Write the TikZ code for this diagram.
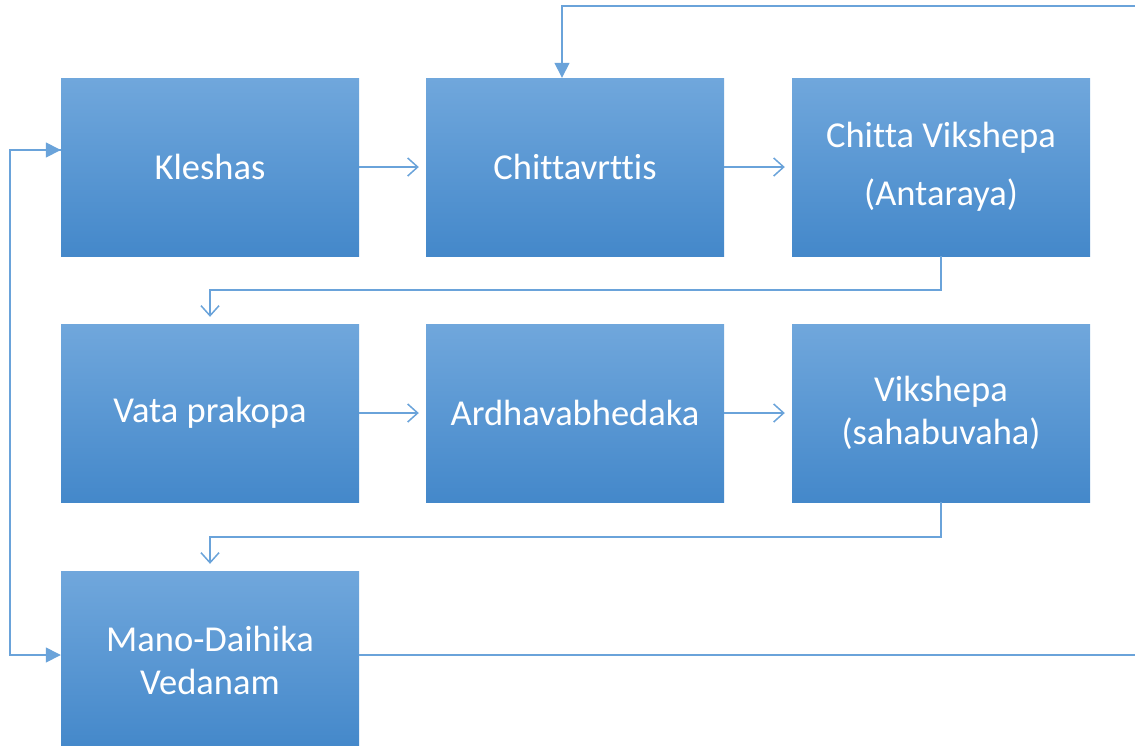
\documentclass[tikz,border=0pt]{standalone}
\usepackage{fontspec}
\setmainfont[Ligatures=CommonOff]{Carlito}
\usetikzlibrary{arrows.meta}
\definecolor{boxtop}{HTML}{70A7DC}
\definecolor{boxbot}{HTML}{4488CA}
\definecolor{linec}{HTML}{6AA3DA}
\tikzset{
  blk/.style={rectangle, minimum width=298pt, minimum height=178pt, inner sep=0pt,
    top color=boxtop, bottom color=boxbot, draw=none, text=white, align=center,
    font=\fontsize{36.5}{43}\selectfont},
  conn/.style={draw=linec, line width=1.5pt},
  openarr/.style={-{Straight Barb[length=10pt,width=18pt,line width=1.5pt]}, shorten >=7pt},
  fillarr/.style={-{Triangle[length=15pt,width=15pt]}},
}
\begin{document}
\begin{tikzpicture}[x=1pt,y=-1pt]
\useasboundingbox (0,0) rectangle (1135,745);
\node[blk] (k) at (210,167) {Kleshas};
\node[blk] (c) at (575,167) {Chittavrttis};
\node[blk] (cv) at (941,167) {Chitta Vikshepa\\[15pt](Antaraya)};
\node[blk] (v) at (210,413) {Vata prakopa};
\node[blk] (a) at (575,413) {Ardhavabhedaka};
\node[blk] (vs) at (941,413) {Vikshepa\\(sahabuvaha)};
\node[blk] (m) at (210,660) {Mano-Daihika\\Vedanam};
\coordinate (r1) at (1136.5,655);
\coordinate (r2) at (1136.5,6);
\coordinate (l1) at (10,150);
\coordinate (l2) at (10,655);
\draw[conn,openarr] (k.east) -- (c.west);
\draw[conn,openarr] (c.east) -- (cv.west);
\draw[conn,openarr] (v.east) -- (a.west);
\draw[conn,openarr] (a.east) -- (vs.west);
\draw[conn,openarr] (cv.south) -- ++(0,34) -| (v.north);
\draw[conn,openarr] (vs.south) -- ++(0,35) -| (m.north);
\draw[conn,fillarr] (m.east |- r1) -- (r1) -- (r2) -| ([xshift=-13pt]c.north);
\draw[conn,fillarr] (k.west |- l1) -- (l1) -- (l2) -- (m.west |- l2);
\draw[conn,fillarr] (l1) -- (k.west |- l1);
\end{tikzpicture}
\end{document}
